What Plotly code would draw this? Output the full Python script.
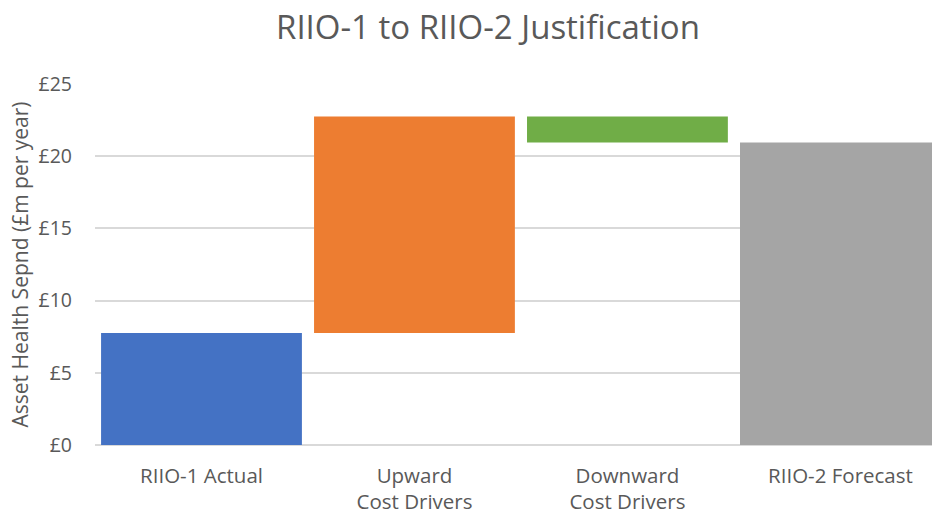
import plotly.graph_objects as go

# Waterfall steps (£m per year)
categories = ["RIIO-1 Actual", "Upward<br>Cost Drivers", "Downward<br>Cost Drivers", "RIIO-2 Forecast"]
steps = [7.75, 15.0, -1.8, 20.95]
kinds = ["total", "relative", "relative", "total"]
colors = ["#4472C4", "#ED7D31", "#70AD47", "#A5A5A5"]
y_ticks = [0, 5, 10, 15, 20, 25]
y_tick_labels = ["£0", "£5", "£10", "£15", "£20", "£25"]

# Build floating bars: each bar spans from its base to base + height
bases, heights = [], []
running = 0.0
for v, k in zip(steps, kinds):
    if k == "total":
        bases.append(0.0)
        heights.append(v)
        running = v
    else:
        start = running
        end = running + v
        bases.append(min(start, end))
        heights.append(abs(v))
        running = end

font_family = "Open Sans, Noto Sans, sans-serif"
text_color = "#595959"

fig = go.Figure(
    go.Bar(
        x=categories,
        y=heights,
        base=bases,
        marker=dict(color=colors, line=dict(width=0)),
        width=0.943,
        hoverinfo="skip",
    )
)

fig.update_layout(
    width=932,
    height=514,
    margin=dict(l=95, r=0, t=84, b=69),
    paper_bgcolor="white",
    plot_bgcolor="white",
    showlegend=False,
    font=dict(family=font_family, color=text_color, size=20),
    title=dict(
        text="RIIO-1 to RIIO-2 Justification",
        x=488 / 932,
        xref="container",
        xanchor="center",
        y=1 - 27 / 514,
        yref="container",
        yanchor="middle",
        font=dict(size=33, color=text_color, family=font_family),
    ),
)

fig.update_xaxes(
    type="category",
    range=[-0.5, 3.43],
    showgrid=False,
    showline=False,
    ticks="",
    tickfont=dict(size=20.5, color=text_color),
    ticklabelstandoff=16,
)

fig.update_yaxes(
    range=[0, 25],
    tickvals=y_ticks,
    ticktext=y_tick_labels,
    showgrid=True,
    gridcolor="#D9D9D9",
    gridwidth=1.5,
    zeroline=True,
    zerolinecolor="#D9D9D9",
    zerolinewidth=1.5,
    showline=False,
    ticks="",
    tickfont=dict(size=19.5, color=text_color),
    ticklabelstandoff=22,
    title=dict(
        text="Asset Health Sepnd (£m per year)",
        font=dict(size=21, color=text_color),
        standoff=4,
    ),
)

fig.write_html("out.html")
